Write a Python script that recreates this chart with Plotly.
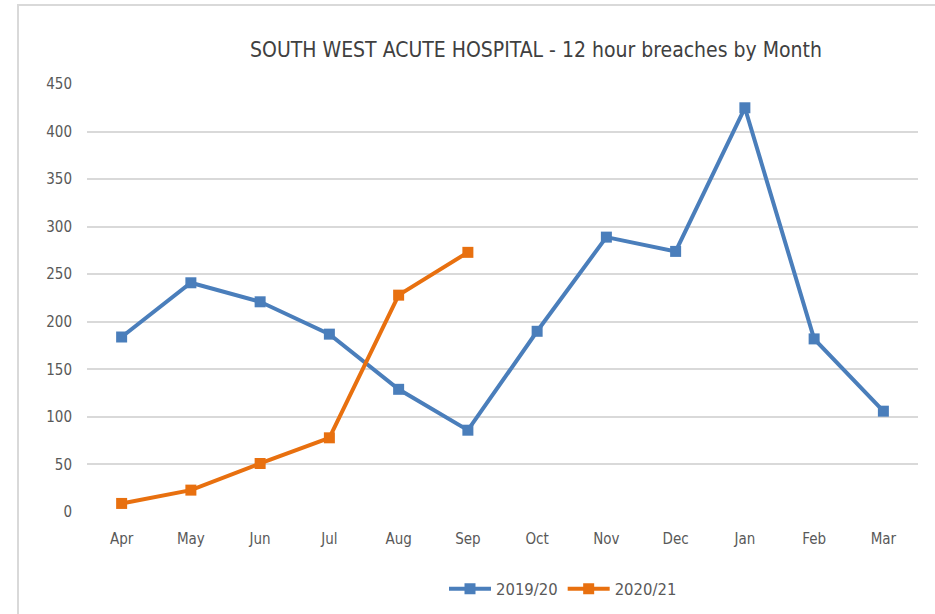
import plotly.graph_objects as go

months = ["Apr", "May", "Jun", "Jul", "Aug", "Sep", "Oct", "Nov", "Dec", "Jan", "Feb", "Mar"]
s2019 = [184, 241, 221, 187, 129, 86, 190, 289, 274, 425, 182, 106]
months_2020 = ["Apr", "May", "Jun", "Jul", "Aug", "Sep"]
s2020 = [9, 23, 51, 78, 228, 273]
yticks = [0, 50, 100, 150, 200, 250, 300, 350, 400, 450]

FONT = "Liberation Sans Narrow, Arial Narrow, DejaVu Sans Condensed, sans-serif"
GREY = "#595959"

W, H = 935, 614
# plot area in page coordinates: x 87..918, y 84..512
L = 87
R = W - 918
T = 84
B = H - 512
pw, ph = W - L - R, H - T - B


def px_x(page_x):
    return (page_x - L) / pw


def px_y(page_y):
    return 1 - (page_y - T) / ph


fig = go.Figure()
fig.add_trace(go.Scatter(
    x=months, y=s2019, name="2019/20", mode="lines+markers",
    line=dict(color="#4a7ebb", width=4),
    marker=dict(symbol="square", size=11, color="#4a7ebb"),
))
fig.add_trace(go.Scatter(
    x=months_2020, y=s2020, name="2020/21", mode="lines+markers",
    line=dict(color="#e8700f", width=4),
    marker=dict(symbol="square", size=11, color="#e8700f"),
))

fig.update_layout(
    width=W, height=H,
    margin=dict(l=L, r=R, t=T, b=B, autoexpand=False),
    paper_bgcolor="white", plot_bgcolor="white",
    font=dict(family=FONT, color=GREY, size=15),
    title=dict(text="SOUTH WEST ACUTE HOSPITAL - 12 hour breaches by Month",
               x=px_x(536), xref="paper", xanchor="center",
               y=1 - 50 / H, yanchor="middle",
               font=dict(family=FONT, size=21, color="#404040")),
    xaxis=dict(type="category", categoryorder="array", categoryarray=months,
               range=[-0.5, 11.5], showgrid=False, zeroline=False,
               showline=False, ticks="", ticklabelstandoff=16,
               tickfont=dict(size=15, color=GREY)),
    yaxis=dict(range=[0, 450], tickvals=yticks, showgrid=True,
               gridcolor="#d9d9d9", gridwidth=1.5, zeroline=False,
               showline=False, ticks="", ticklabelstandoff=14,
               tickfont=dict(size=15, color=GREY)),
    legend=dict(orientation="h", x=px_x(563), xanchor="center",
                y=px_y(589), yanchor="middle", itemwidth=42,
                font=dict(size=16.5, color=GREY)),
    showlegend=True,
)

# outer chart border (light grey, left and top visible)
fig.add_shape(type="rect", xref="paper", yref="paper",
              x0=px_x(18), x1=px_x(960),
              y0=px_y(640), y1=px_y(5),
              line=dict(color="#d9d9d9", width=2), fillcolor="rgba(0,0,0,0)",
              layer="below")

fig.write_html("out.html",
               config={"displayModeBar": False},
               post_script="document.body.style.margin='0';document.body.style.overflow='hidden';")
